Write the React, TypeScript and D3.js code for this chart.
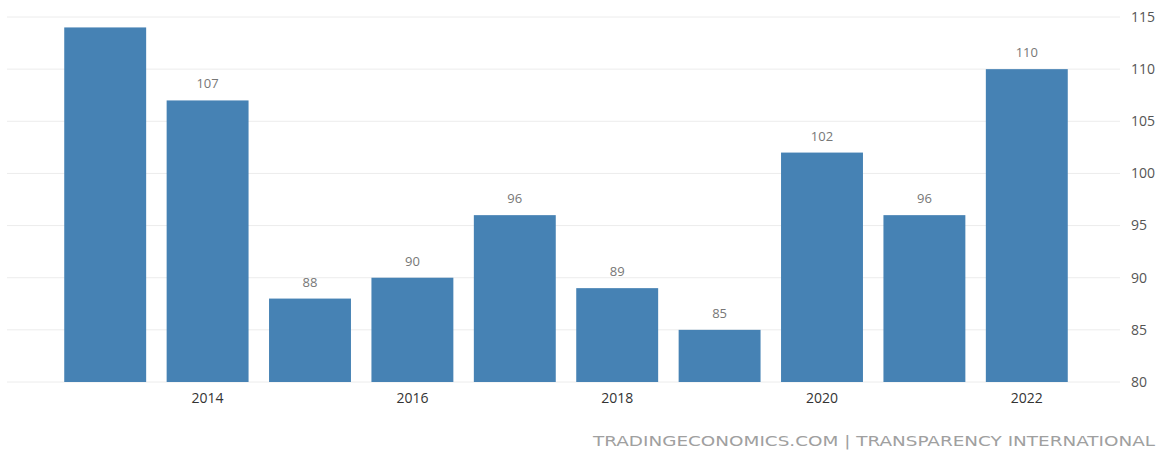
import React from "react";
import * as d3 from "d3";

const years = ["2013", "2014", "2015", "2016", "2017", "2018", "2019", "2020", "2021", "2022"];
const values = [114, 107, 88, 90, 96, 89, 85, 102, 96, 110];
const yTicks = [80, 85, 90, 95, 100, 105, 110, 115];
const xTickLabels = ["2014", "2016", "2018", "2020", "2022"];
const sourceText = "TRADINGECONOMICS.COM | TRANSPARENCY INTERNATIONAL";

export default function App() {
  const W = 1173, H = 455;
  const x = d3.scaleBand<string>().domain(years).range([54, 1078]).paddingInner(0.2).paddingOuter(0.1);
  const y = d3.scaleLinear().domain([80, 115]).range([382, 17]);
  const bw = x.bandwidth();
  return (
    <svg width={W} height={H} style={{ position: "absolute", left: 0, top: 0, background: "#fff" }}
      fontFamily="'Open Sans', 'DejaVu Sans', sans-serif">
      {yTicks.map((t) => (
        <g key={t}>
          <line x1={7} x2={1120} y1={y(t)} y2={y(t)} stroke="#ececec" strokeWidth={1} />
          <text x={1131} y={y(t)} dy="0.35em" fontSize={14} fill="#555">{t}</text>
        </g>
      ))}
      {years.map((yr, i) => {
        const v = values[i];
        const top = y(v);
        const lx = (x(yr) as number) + bw / 2;
        const ly = top - 12;
        return (
          <g key={yr}>
            <rect x={x(yr)} y={top} width={bw} height={y(80) - top} fill="#4682b4" />
            {ly >= y(115) ? (
              <text x={lx} y={ly} textAnchor="middle" fontSize={13} fill="#777">{v}</text>
            ) : null}
          </g>
        );
      })}
      {xTickLabels.map((l) => (
        <text key={l} x={(x(l) as number) + bw / 2} y={403} textAnchor="middle" fontSize={14} fill="#333">{l}</text>
      ))}
      <text x={593} y={446} fontSize={14} fontFamily="'DejaVu Sans', sans-serif" fill="#a0a0a0" textLength={562} lengthAdjust="spacingAndGlyphs">{sourceText}</text>
    </svg>
  );
}
